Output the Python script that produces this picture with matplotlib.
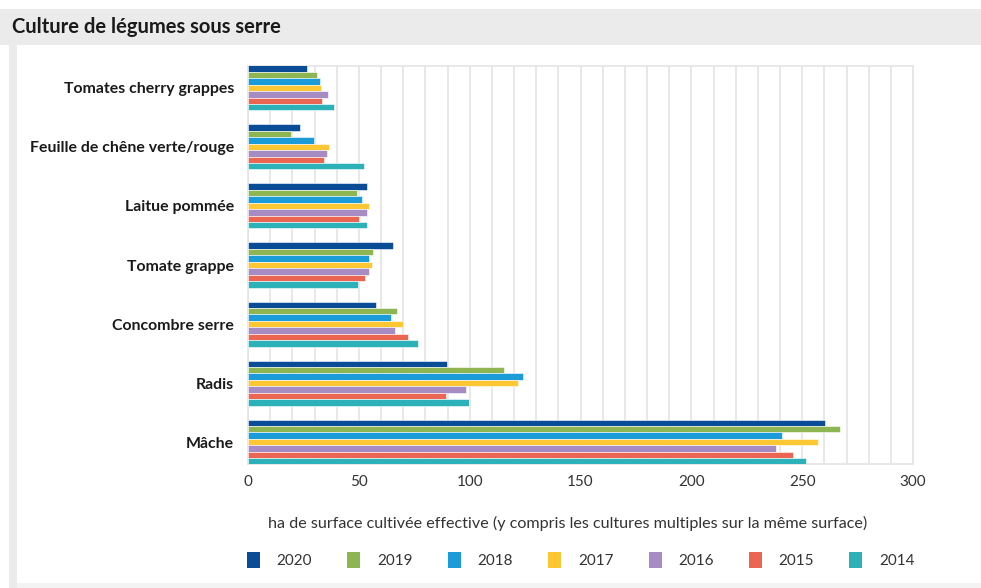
import matplotlib
matplotlib.use("Agg")
import matplotlib.pyplot as plt
from matplotlib.patches import Rectangle, Patch
import numpy as np

plt.rcParams['font.family'] = ['Lato', 'DejaVu Sans']

categories = ["Tomates cherry grappes", "Feuille de chêne verte/rouge", "Laitue pommée",
              "Tomate grappe", "Concombre serre", "Radis", "Mâche"]
years = ["2020", "2019", "2018", "2017", "2016", "2015", "2014"]
colors = ["#0b4c97", "#8db552", "#1b9bd7", "#fcc733", "#a78bc3", "#eb6553", "#2bb1b7"]

# values per year, same order as categories
v2020 = [26.5, 23.5, 53.5, 65.5, 57.7, 89.9, 260.4]
v2019 = [31.0, 19.3, 49.0, 56.5, 67.1, 115.5, 267.0]
v2018 = [32.5, 29.8, 51.3, 54.7, 64.7, 124.2, 240.8]
v2017 = [32.8, 36.4, 54.7, 55.8, 69.9, 121.7, 257.3]
v2016 = [36.2, 35.5, 53.7, 54.4, 66.2, 98.3, 238.0]
v2015 = [33.2, 34.3, 50.0, 52.9, 72.2, 89.2, 246.0]
v2014 = [38.7, 52.2, 53.7, 49.8, 76.8, 99.8, 251.6]
series = [v2020, v2019, v2018, v2017, v2016, v2015, v2014]

W, H = 981, 588
fig = plt.figure(figsize=(W / 100, H / 100), dpi=100)

# grey frame around the panel
fig.patches.append(Rectangle((0, 1 - 45 / H), 1, 36 / H, transform=fig.transFigure,
                             facecolor="#ebebeb", edgecolor="none", zorder=0))
fig.patches.append(Rectangle((9 / W, 0), 8 / W, 1 - 45 / H, transform=fig.transFigure,
                             facecolor="#ebebeb", edgecolor="none", zorder=0))
fig.patches.append(Rectangle((17 / W, 0), 1 - 17 / W, 5 / H, transform=fig.transFigure,
                             facecolor="#f3f3f3", edgecolor="none", zorder=0))
fig.text(12 / W, 1 - 27 / H, "Culture de légumes sous serre", fontsize=14.5,
         fontweight="bold", color="#1a1a1a", va="center", ha="left")

ax = fig.add_axes([248 / W, 1 - 464 / H, 665 / W, 398 / H])

h = 0.109
y = np.arange(len(categories))
for j, (yr, vals, col) in enumerate(zip(years, series, colors)):
    ax.barh(y + (j - 3) * h, vals, height=h, color=col, edgecolor="white",
            linewidth=0.4, label=yr, zorder=3)

ax.set_xlim(0, 300)
ax.set_ylim(6.37, -0.37)
ax.set_xticks(np.arange(0, 301, 50))
ax.set_xticks(np.arange(0, 301, 10), minor=True)
ax.grid(axis="x", which="both", color="#e4e4e4", linewidth=1.2, zorder=0)
ax.set_yticks(y)
ax.set_yticklabels(categories, fontsize=11.4, fontweight="bold", color="#1a1a1a")
ax.tick_params(axis="y", length=0, pad=10)
ax.tick_params(axis="x", which="both", length=0, pad=8, labelsize=11, labelcolor="#333333")
for s in ax.spines.values():
    s.set_color("#e4e4e4")
    s.set_linewidth(1.2)

ax.set_xlabel("ha de surface cultivée effective (y compris les cultures multiples sur la même surface)",
              fontsize=11.6, color="#333333")
ax.xaxis.set_label_coords(0.48, -52 / 398)

handles = [Patch(facecolor=c, edgecolor="none") for c in colors]
fig.legend(handles, years, loc="center", bbox_to_anchor=(0.592, 1 - 560 / H), ncol=7,
           frameon=False, fontsize=11, handlelength=0.85, handleheight=1.3,
           handletextpad=1.1, columnspacing=2.3, labelcolor="#333333")

fig.savefig("out.png", dpi=100, facecolor="white")
